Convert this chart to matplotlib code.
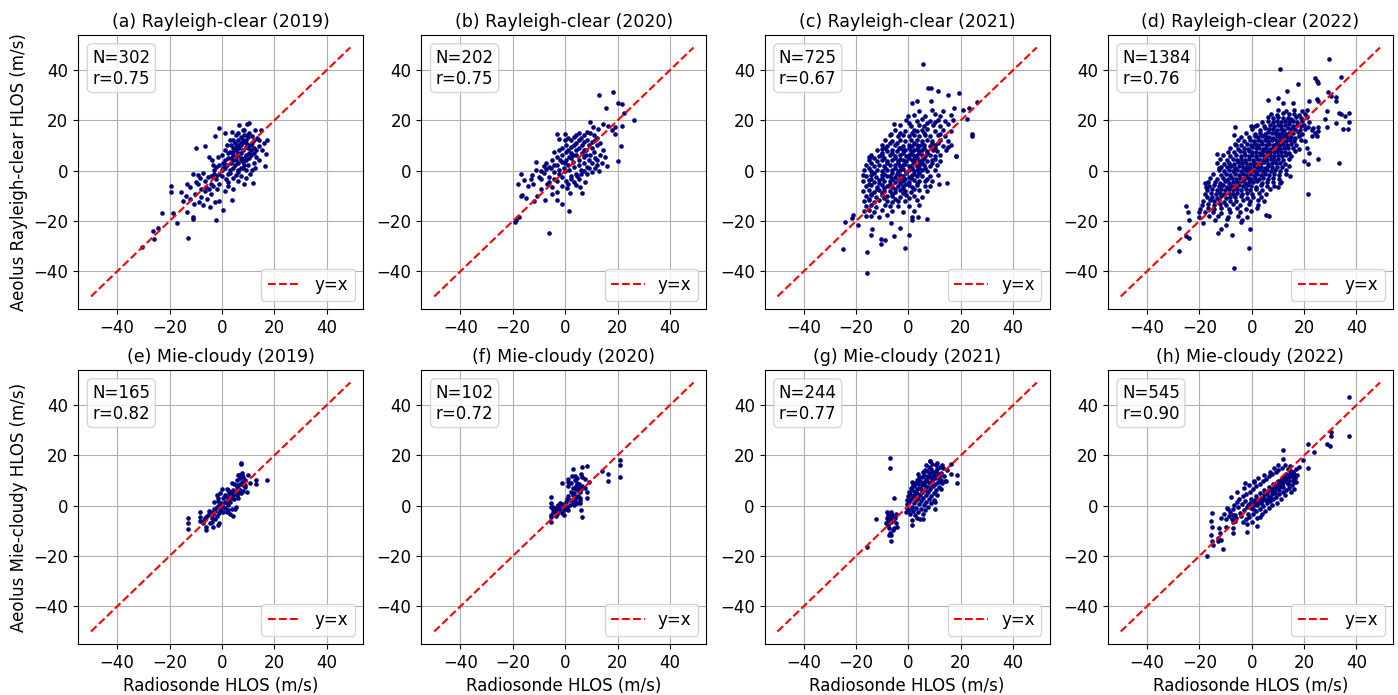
import matplotlib
matplotlib.use("Agg")
import matplotlib.pyplot as plt

# Aeolus vs radiosonde HLOS (m/s), values as (radiosonde, aeolus)
rc2019 = [
    (-30.4, -30.4), (-25.9, -27.1), (-26.5, -24.0), (-24.4, -22.8), (-22.7, -16.8), (-18.6, -16.8), (-17.0, -20.8),
    (-13.1, -26.7), (-13.5, -16.6), (-11.2, -18.2), (-11.0, -19.0), (-7.1, -13.6), (-4.6, -14.6), (-2.4, -19.7),
    (0.3, -15.5), (-1.0, -12.2), (3.7, -11.6), (-19.5, -5.9), (-19.5, -8.3), (-15.7, -8.6), (-13.5, -5.3),
    (-12.2, -6.3), (-14.8, -12.1), (-13.6, -10.2), (-12.1, -11.4), (-10.8, -13.2), (-10.2, -9.1), (-8.9, -12.3),
    (-7.8, -10.4), (-6.6, -8.2), (-5.7, -11.3), (-4.1, -9.4), (-2.8, -12.6), (-1.9, -7.3), (1.2, -8.1), (2.3, -6.2),
    (4.4, -7.3), (6.1, -4.2), (8.3, -5.1), (10.7, -1.4), (12.0, -4.7), (12.6, 1.0), (16.5, 2.0), (16.8, 6.8),
    (17.1, 12.4), (14.8, 16.3), (13.2, 8.1), (14.1, 10.0), (11.6, 14.0), (12.6, 16.0), (8.5, 16.0), (9.7, 18.7),
    (10.5, 18.9), (6.6, 18.3), (4.0, 15.4), (1.3, 15.0), (-1.0, 17.0), (-2.6, 13.7), (-6.5, 10.0), (-10.0, 9.0),
    (-5.0, 5.5), (-3.6, 4.2), (-1.4, 5.3), (-9.0, -1.7), (-8.4, -3.0), (-10.0, -4.3), (-11.2, -1.2), (-7.1, -0.8),
    (-6.3, -4.1), (-5.2, -2.3), (-4.3, -5.1), (-3.1, -1.2), (-2.2, -3.4), (-1.1, -5.2), (0.2, -2.1), (1.4, -3.3),
    (2.2, -4.4), (3.1, -0.8), (4.2, -2.9), (5.3, -1.8), (6.2, -0.7), (7.4, -2.2), (8.1, 0.9), (9.2, -2.8),
    (10.1, 2.3), (11.3, 0.4), (12.2, 3.1), (0.1, 0.3), (1.2, 1.1), (2.1, 2.4), (3.3, 3.1), (4.1, 4.2), (5.2, 5.3),
    (6.1, 6.4), (7.3, 7.1), (8.2, 8.3), (9.1, 9.4), (10.3, 10.2), (2.2, 5.1), (3.1, 7.3), (4.3, 9.1), (5.1, 11.2),
    (6.2, 12.1), (7.1, 13.3), (8.3, 14.2), (5.3, 8.1), (6.4, 9.2), (7.2, 10.4), (8.1, 11.3), (9.3, 12.2),
    (10.1, 13.4), (3.2, 0.2), (4.3, 1.1), (5.1, 2.3), (6.3, 3.2), (7.1, 4.1), (8.4, 5.2), (9.2, 6.3), (10.4, 7.1),
    (11.1, 8.2), (12.3, 9.1), (1.1, 4.2), (2.3, 7.1), (3.4, 10.2), (4.2, 12.3), (5.4, 14.1), (6.3, 15.2),
    (7.9, 16.3), (9.4, 14.3), (10.2, 15.1), (11.3, 11.2), (12.1, 12.4), (13.3, 13.1), (14.2, 12.2), (0.3, 3.2),
    (-1.2, 2.1), (-2.1, 1.3), (-3.3, 2.2), (-1.1, -1.2), (0.2, 6.3), (1.3, 8.1), (2.1, 10.3), (3.2, 12.1),
    (4.3, 6.1), (5.2, 4.3), (6.1, 7.2), (7.3, 5.1), (8.2, 3.3), (9.1, 4.2), (10.3, 5.1), (11.2, 6.3), (12.4, 7.2),
    (13.2, 5.3), (14.1, 4.2), (15.3, 8.1), (16.1, 11.2), (6.2, 0.3), (7.1, 1.2), (8.3, 2.1), (9.2, 0.2),
    (3.3, 5.2), (4.1, 7.3), (5.3, 9.4), (6.1, 10.3), (7.3, 11.2), (8.2, 12.4), (9.3, 11.1), (10.1, 9.2),
    (11.2, 10.3), (2.2, -1.3), (1.1, 2.2), (0.3, 1.1), (-2.1, -2.2), (-3.2, 0.3), (-4.3, -2.1), (-6.2, -6.3),
    (-8.1, -7.2), (-9.2, -5.1), (-5.1, -7.2), (-3.3, -6.1),
]

rc2020 = [
    (12.9, 30.3), (18.1, 31.2), (15.6, 25.0), (20.2, 27.0), (21.6, 26.6), (22.4, 22.9), (26.3, 20.3), (9.4, 19.3),
    (10.5, 17.4), (12.6, 16.7), (14.5, 18.7), (16.5, 17.6), (17.7, 16.0), (19.0, 17.4), (21.8, 17.6), (19.0, 14.5),
    (21.2, 9.7), (20.0, 3.9), (16.0, 1.8), (0.0, 14.7), (-3.3, 14.7), (-2.3, 12.5), (-11.2, 3.4), (-8.2, 1.8),
    (-12.6, -1.8), (-16.8, -1.4), (-17.9, -5.4), (-15.7, -3.7), (-12.2, -5.3), (-17.0, -10.0), (-16.6, -9.6),
    (-15.0, -10.7), (-12.0, -12.2), (-10.6, -10.0), (-7.8, -11.6), (-3.3, -11.6), (-1.1, -13.3), (1.5, -16.2),
    (0.8, -7.0), (2.0, -9.0), (6.3, -9.0), (5.6, -6.3), (7.5, -4.3), (4.0, -5.7), (-19.3, -20.5), (-18.6, -19.5),
    (-17.6, -18.4), (-6.3, -24.7), (-8.0, -1.0), (-7.2, 0.5), (-6.1, -2.3), (-5.3, 1.2), (-4.2, -0.4), (-3.1, 2.1),
    (-2.3, 0.3), (-1.2, 3.4), (-0.3, 1.2), (0.4, 4.1), (1.2, 2.3), (2.3, 5.2), (3.1, 3.4), (4.2, 6.3), (5.1, 4.2),
    (6.3, 7.1), (7.2, 5.3), (8.1, 8.4), (9.3, 6.2), (10.2, 9.1), (11.1, 7.3), (12.3, 10.2), (-6.2, -4.3),
    (-4.1, -3.2), (-2.2, -1.4), (0.1, -0.3), (1.3, 0.4), (2.1, -2.1), (3.4, 1.3), (4.3, -1.2), (5.2, 2.1),
    (6.1, 0.4), (7.3, 3.2), (8.4, 1.3), (9.2, 4.3), (10.3, 3.1), (11.2, 5.2), (12.1, 4.1), (13.3, 6.3), (-5.1, 4.2),
    (-3.2, 5.3), (-1.3, 6.1), (0.2, 7.3), (1.1, 8.2), (2.4, 9.3), (3.2, 10.4), (4.1, 11.2), (5.3, 12.3),
    (6.2, 13.1), (7.1, 11.4), (8.3, 12.2), (9.1, 10.3), (10.4, 11.3), (11.2, 12.4), (-1.2, 9.1), (0.3, 10.2),
    (2.2, 12.1), (3.3, 13.4), (4.2, 8.3), (5.1, 9.2), (6.3, 10.1), (7.2, 8.4), (8.1, 6.3), (3.1, 6.4), (2.2, 7.1),
    (1.3, 5.3), (-0.2, 3.2), (-2.1, 4.1), (-4.3, 2.3), (-6.1, 1.4), (-7.2, 3.1), (-9.2, -0.3), (-10.1, -2.4),
    (-11.3, 0.2), (-9.1, -3.3), (-7.1, -5.2), (-5.2, -6.4), (-3.1, -4.1), (-1.2, -2.3), (0.2, -4.2), (1.1, -5.3),
    (2.3, -3.4), (3.2, -4.3), (4.4, -2.2), (5.3, -3.1), (6.2, -1.3), (7.1, -0.2), (8.3, -1.2), (9.2, 1.1),
    (10.1, -0.4), (11.3, 1.2), (12.2, 2.3), (13.1, -0.3), (14.2, 3.2), (15.1, 5.3), (14.3, 8.2), (13.2, 11.1),
    (12.3, 13.2), (11.1, 14.3), (9.3, 15.1), (8.2, 15.3), (7.1, 14.2), (5.2, 15.1), (4.3, 14.1), (-4.2, 7.3),
    (-2.3, 8.1), (0.1, 12.2), (1.2, 13.1), (-1.3, -6.2), (-3.2, -8.3), (-5.1, -9.1), (-9.3, -7.2), (-13.1, -3.2),
    (-14.2, -6.1),
]

rc2021 = [
    (5.6, 42.4), (7.6, 32.8), (8.5, 32.8), (11.4, 31.8), (15.2, 30.3), (19.3, 30.9), (3.1, 27.9), (8.8, 27.9),
    (1.2, 26.8), (17.5, 25.0), (21.0, 24.3), (23.3, 25.0), (26.1, 27.5), (22.5, 20.4), (24.3, 14.7), (24.3, 14.0),
    (18.2, 5.8), (14.6, -5.0), (11.8, -5.4), (7.2, -19.2), (3.7, -18.2), (1.2, -19.5), (0.1, -25.4), (-1.4, -30.7),
    (-3.1, -22.8), (-5.5, -26.0), (-6.5, -20.8), (-8.8, -27.6), (-10.4, -27.0), (-10.6, -29.0), (-14.2, -25.7),
    (-13.8, -23.2), (-15.7, -32.2), (-15.7, -40.5), (-25.1, -31.0), (-24.2, -20.5), (-21.3, -17.5), (-21.5, -18.8),
    (-19.3, -21.7), (-17.4, -1.7), (-15.2, 5.3), (-14.6, 5.3), (-10.2, 8.6), (-10.0, 6.2), (-6.8, 14.7),
    (-5.5, 18.7), (-3.6, 9.2), (0.0, 21.7), (15.0, 9.5), (18.0, 6.0),
    (4.2, 23.8), (9.1, 24.3), (13.2, 23.6), (2.1, 22.2), (6.3, 21.8), (10.2, 22.4), (12.1, 21.6), (16.2, 22.1),
    (-1.1, 20.3), (3.2, 19.8), (5.1, 20.4), (8.3, 19.7), (11.2, 20.2), (14.1, 19.6), (17.2, 20.1), (-3.2, 18.1),
    (1.1, 17.8), (4.2, 18.3), (6.1, 17.7), (9.3, 18.2), (12.1, 17.9), (15.2, 18.4), (-5.1, 16.2), (-1.2, 15.8),
    (2.1, 16.3), (3.3, 15.7), (5.2, 16.1), (7.1, 16.4), (10.2, 15.9), (13.1, 16.2), (16.1, 15.8), (-7.2, 14.1),
    (-4.1, 13.8), (-2.2, 14.3), (0.1, 13.7), (2.2, 14.2), (4.1, 13.9), (6.2, 14.4), (8.1, 13.8), (11.2, 14.1),
    (14.1, 13.7), (-9.1, 12.2), (-6.2, 11.8), (-3.1, 12.3), (-1.2, 11.7), (1.1, 12.1), (3.2, 12.4), (5.1, 11.9),
    (7.2, 12.2), (9.1, 11.8), (12.2, 12.3), (15.1, 11.9), (-10.2, 10.1), (-8.1, 9.8), (-5.2, 10.3), (-2.1, 9.7),
    (0.2, 10.2), (1.3, 9.9), (3.1, 10.4), (4.2, 9.8), (6.1, 10.1), (8.2, 9.7), (10.1, 10.3), (13.1, 9.9),
    (16.2, 10.2), (-12.1, 8.2), (-8.2, 7.8), (-6.1, 8.3), (-4.2, 7.7), (-2.1, 8.1), (-1.2, 8.4), (1.1, 7.9),
    (2.2, 8.2), (4.1, 7.8), (5.2, 8.3), (7.1, 7.7), (9.2, 8.1), (11.1, 7.9), (14.2, 8.2), (-14.1, 6.1),
    (-11.2, 5.8), (-7.1, 6.3), (-5.2, 5.7), (-3.1, 6.2), (-1.1, 5.9), (0.2, 6.4), (2.1, 5.8), (3.2, 6.1), (5.1, 6.3),
    (6.2, 5.7), (8.1, 6.2), (10.2, 5.9), (12.1, 6.1), (-15.2, 4.1), (-12.1, 3.8), (-10.2, 4.3), (-8.1, 3.7),
    (-6.2, 4.2), (-4.1, 3.9), (-2.2, 4.4), (-1.1, 3.8), (1.2, 4.1), (2.1, 4.3), (4.2, 3.7), (5.1, 4.2), (7.2, 3.9),
    (9.1, 4.1), (12.2, 3.8), (-16.1, 2.2), (-13.2, 1.8), (-11.1, 2.3), (-9.2, 1.7), (-7.1, 2.1), (-5.2, 2.4),
    (-3.1, 1.9), (-2.2, 2.2), (0.1, 1.8), (1.2, 2.3), (3.1, 1.7), (4.2, 2.1), (6.1, 2.4), (8.2, 1.8), (11.1, 2.2),
    (-17.1, 0.1), (-14.2, -0.2), (-12.1, 0.3), (-10.2, -0.3), (-8.1, 0.2), (-6.2, 0.4), (-4.1, -0.1), (-3.2, 0.2),
    (-1.1, -0.4), (0.2, 0.3), (2.1, -0.2), (3.2, 0.1), (5.1, 0.4), (7.2, -0.3), (10.1, 0.2), (-16.2, -2.1),
    (-14.1, -1.8), (-12.2, -2.3), (-10.1, -1.7), (-8.2, -2.2), (-7.1, -1.9), (-5.2, -2.4), (-3.1, -1.8),
    (-2.2, -2.1), (0.1, -2.3), (1.2, -1.7), (3.1, -2.2), (5.2, -1.9), (8.1, -2.1), (11.2, -1.8), (-17.2, -4.1),
    (-15.1, -3.8), (-13.2, -4.3), (-11.1, -3.7), (-9.2, -4.2), (-7.1, -3.9), (-5.2, -4.4), (-4.1, -3.8),
    (-2.2, -4.1), (0.1, -4.3), (2.2, -3.7), (4.1, -4.2), (6.2, -3.9), (9.1, -4.1), (-16.1, -6.2), (-14.2, -5.8),
    (-12.1, -6.3), (-10.2, -5.7), (-8.1, -6.1), (-6.2, -6.4), (-4.1, -5.9), (-2.2, -6.2), (0.1, -5.8), (1.2, -6.3),
    (3.1, -5.7), (6.2, -6.1), (8.1, -5.9), (-17.2, -8.1), (-15.1, -7.8), (-13.2, -8.3), (-11.1, -7.7), (-9.2, -8.2),
    (-7.1, -7.9), (-5.2, -8.4), (-3.1, -7.8), (-1.2, -8.1), (1.1, -8.3), (4.2, -7.7), (7.1, -8.2), (-16.2, -10.1),
    (-14.1, -9.8), (-12.2, -10.3), (-10.1, -9.7), (-8.2, -10.2), (-6.1, -9.9), (-3.2, -10.4), (-1.1, -9.8),
    (2.1, -10.1), (5.2, -10.3), (-17.1, -12.2), (-15.2, -11.8), (-13.1, -12.3), (-11.2, -11.7), (-8.1, -12.1),
    (-6.2, -12.4), (-4.1, -11.9), (-1.2, -12.2), (3.1, -11.8), (-16.2, -14.1), (-14.1, -13.8), (-12.2, -14.3),
    (-9.1, -13.7), (-7.2, -14.2), (-4.1, -13.9), (0.2, -14.1), (4.1, -13.8), (-17.1, -16.2), (-15.2, -15.8),
    (-13.1, -16.3), (-10.2, -15.7), (-6.1, -16.1), (-2.2, -16.4), (2.1, -15.9), (-16.2, -18.1), (-14.1, -17.8),
    (-11.2, -18.3), (-8.1, -17.7), (1.2, -18.2),
    (0.2, 19.1), (7.1, 18.9), (10.2, 19.2), (-3.1, 15.1), (1.2, 14.9), (6.1, 15.2), (12.2, 14.8), (-7.1, 11.1),
    (-4.2, 10.9), (2.1, 11.2), (5.2, 10.8), (9.1, 11.1), (11.2, 10.9), (-9.1, 9.1), (-3.2, 8.9), (0.1, 9.2),
    (3.2, 8.8), (6.1, 9.1), (10.2, 8.9), (-10.1, 7.1), (-6.2, 6.9), (-2.1, 7.2), (1.2, 6.8), (4.1, 7.1), (7.2, 6.9),
    (-13.1, 5.1), (-9.2, 4.9), (-5.1, 5.2), (-3.2, 4.8), (0.1, 5.1), (3.2, 4.9), (6.1, 5.2), (10.2, 4.8),
    (-14.1, 3.1), (-8.2, 2.9), (-4.1, 3.2), (-1.2, 2.8), (2.1, 3.1), (5.2, 2.9), (9.1, 3.2), (-15.2, 1.1),
    (-9.1, 0.9), (-5.2, 1.2), (-2.1, 0.8), (1.2, 1.1), (4.1, 0.9), (6.2, 1.2), (-13.1, -0.9), (-9.2, -1.1),
    (-6.1, -0.8), (-4.2, -1.2), (-1.1, -0.9), (2.2, -1.1), (4.1, -0.8), (-14.2, -3.1), (-10.1, -2.9), (-6.2, -3.2),
    (-3.1, -2.8), (-1.2, -3.1), (1.1, -2.9), (7.2, -3.2), (-15.1, -5.1), (-11.2, -4.9), (-7.1, -5.2), (-3.2, -4.8),
    (-1.1, -5.1), (3.2, -4.9), (-12.1, -7.1), (-9.2, -6.9), (-5.1, -7.2), (-2.2, -6.8), (2.1, -7.1), (-14.1, -9.1),
    (-10.2, -8.9), (-6.1, -9.2), (-2.2, -8.8), (-15.1, -11.1), (-9.2, -10.9), (-5.1, -11.2), (0.2, -10.8),
]

rc2022 = [
    (29.6, 44.6), (10.8, 40.4), (34.2, 37.4), (24.2, 36.8), (24.8, 35.8), (25.2, 34.7), (17.5, 34.5), (13.3, 31.6),
    (29.3, 31.4), (30.3, 29.9), (32.3, 29.2), (32.3, 27.9), (22.0, 27.9), (25.5, 27.9), (24.9, 28.5), (6.4, 28.3),
    (9.9, 28.9), (12.0, 27.0), (15.9, 27.0), (28.6, 23.9), (33.2, 22.9), (34.2, 22.4), (35.5, 21.6), (37.0, 23.0),
    (37.0, 19.3), (36.7, 16.7), (35.0, 16.7), (32.1, 18.9), (28.7, 17.4), (28.0, 20.7), (33.2, 3.2), (21.4, -9.3),
    (25.2, 4.6), (-27.8, -22.8), (-27.8, -32.0), (-25.1, -14.2), (-24.2, -16.6), (-23.8, -19.5), (-25.1, -26.0),
    (-23.8, -26.7), (-20.0, -16.4), (-20.0, -18.2), (-18.7, -20.6), (-17.8, -5.0), (-17.4, -6.3), (-13.2, 6.6),
    (-12.3, 0.9), (-6.9, -38.6), (-1.2, -30.9), (-0.5, -23.0), (-6.5, 17.4), (-6.8, 14.1), (-0.4, 17.6),
    (1.2, 17.6), (-5.9, 10.4), (-12.9, -24.7), (-11.7, -23.2), (-7.4, -25.4), (-9.9, -21.6), (-4.0, -20.5),
    (5.6, -17.5), (6.5, -17.9), (4.6, -12.2), (10.1, -6.3), (11.0, -5.0), (14.6, -2.1), (21.6, 17.4), (22.9, 16.3),
    (24.2, 15.0), (25.5, 15.6), (24.8, 13.8), (22.9, 14.0), (23.5, 17.0), (25.5, 17.5), (20.5, 12.0), (21.0, 9.0),
    (22.0, 7.0), (20.0, 4.0), (21.5, 2.5),
    (10.1, 24.2), (13.2, 23.8), (16.1, 24.3), (19.2, 23.9), (21.0, 24.1), (7.2, 22.6), (9.8, 22.3), (12.1, 22.8),
    (14.3, 22.4), (16.2, 22.7), (18.1, 22.2), (20.3, 22.6), (6.1, 21.2), (8.2, 20.8), (10.1, 21.3), (11.9, 20.9),
    (13.8, 21.1), (15.2, 20.7), (17.1, 21.2), (19.0, 20.9), (21.2, 21.3), (4.1, 19.4), (6.3, 19.7), (8.1, 19.3),
    (9.6, 19.8), (11.2, 19.4), (12.8, 19.6), (14.1, 19.2), (15.9, 19.7), (17.4, 19.3), (19.1, 19.8), (22.0, 19.4),
    (2.2, 18.1), (4.8, 17.8), (6.9, 18.3), (8.4, 17.9), (9.9, 18.2), (11.3, 17.7), (12.7, 18.1), (14.2, 18.4),
    (15.8, 17.8), (17.3, 18.2), (18.8, 17.9), (20.1, 18.3), (0.1, 16.6), (3.1, 16.3), (5.2, 16.8), (6.8, 16.4),
    (8.3, 16.7), (9.7, 16.2), (11.1, 16.6), (12.4, 16.3), (13.9, 16.8), (15.2, 16.4), (16.7, 16.6), (18.3, 16.2),
    (20.2, 16.7), (-2.3, 15.1), (1.2, 14.8), (3.3, 15.2), (4.9, 14.7), (6.2, 15.3), (7.6, 14.9), (8.9, 15.2),
    (10.3, 14.8), (11.7, 15.1), (13.1, 14.7), (14.4, 15.2), (15.9, 14.9), (17.5, 15.3), (19.1, 14.8), (-4.1, 13.6),
    (-1.2, 13.3), (1.1, 13.7), (2.6, 13.4), (4.1, 13.8), (5.4, 13.3), (6.8, 13.6), (8.1, 13.2), (9.5, 13.7),
    (10.9, 13.4), (12.2, 13.8), (13.6, 13.3), (15.1, 13.6), (16.6, 13.2), (18.2, 13.7), (-5.1, 12.1), (-2.8, 11.8),
    (-0.6, 12.2), (1.0, 11.7), (2.4, 12.3), (3.7, 11.9), (5.1, 12.2), (6.4, 11.8), (7.8, 12.1), (9.1, 12.4),
    (10.5, 11.9), (11.8, 12.2), (13.2, 11.7), (14.7, 12.1), (16.3, 11.8), (18.9, 12.2), (-6.2, 10.6), (-3.9, 10.3),
    (-1.8, 10.8), (-0.2, 10.4), (1.3, 10.7), (2.6, 10.2), (4.0, 10.6), (5.3, 10.3), (6.7, 10.8), (8.0, 10.4),
    (9.4, 10.6), (10.7, 10.2), (12.1, 10.7), (13.5, 10.3), (15.0, 10.6), (16.8, 10.2), (-8.1, 9.1), (-5.2, 8.8),
    (-3.1, 9.2), (-1.4, 8.7), (0.1, 9.3), (1.5, 8.9), (2.8, 9.1), (4.2, 8.8), (5.5, 9.2), (6.9, 8.7), (8.2, 9.1),
    (9.6, 9.3), (10.9, 8.8), (12.3, 9.2), (13.8, 8.9), (15.6, 9.1), (18.0, 8.8), (-9.2, 7.6), (-6.8, 7.3),
    (-4.6, 7.7), (-2.8, 7.4), (-1.2, 7.8), (0.2, 7.3), (1.6, 7.6), (3.0, 7.2), (4.3, 7.7), (5.7, 7.4), (7.0, 7.6),
    (8.4, 7.3), (9.7, 7.8), (11.1, 7.4), (12.6, 7.6), (14.3, 7.2), (16.4, 7.7), (-11.1, 6.1), (-8.2, 5.8),
    (-6.1, 6.2), (-4.2, 5.7), (-2.6, 6.3), (-1.1, 5.9), (0.3, 6.2), (1.7, 5.8), (3.1, 6.1), (4.4, 6.3), (5.8, 5.7),
    (7.1, 6.2), (8.5, 5.8), (9.9, 6.1), (11.4, 5.9), (13.1, 6.3), (15.2, 5.8), (-12.0, 4.6), (-9.4, 4.3),
    (-7.3, 4.7), (-5.5, 4.2), (-3.9, 4.8), (-2.4, 4.4), (-0.9, 4.6), (0.5, 4.2), (1.9, 4.7), (3.2, 4.3), (4.6, 4.6),
    (5.9, 4.2), (7.3, 4.8), (8.7, 4.4), (10.2, 4.6), (11.9, 4.3), (14.1, 4.7), (-13.1, 3.1), (-10.6, 2.8),
    (-8.5, 3.2), (-6.7, 2.7), (-5.1, 3.3), (-3.6, 2.9), (-2.1, 3.1), (-0.7, 2.8), (0.7, 3.2), (2.0, 2.7), (3.4, 3.1),
    (4.8, 3.3), (6.1, 2.8), (7.6, 3.2), (9.1, 2.9), (10.8, 3.1), (12.9, 2.7), (-11.7, 1.6), (-9.6, 1.3),
    (-7.9, 1.7), (-6.3, 1.2), (-4.8, 1.8), (-3.3, 1.4), (-1.9, 1.6), (-0.5, 1.2), (0.9, 1.7), (2.2, 1.3), (3.6, 1.6),
    (5.0, 1.2), (6.4, 1.8), (7.9, 1.4), (9.6, 1.6), (11.7, 1.3), (14.2, 1.7), (-12.6, 0.1), (-10.4, -0.2),
    (-8.7, 0.3), (-7.1, -0.3), (-5.6, 0.2), (-4.1, -0.1), (-2.7, 0.3), (-1.3, -0.2), (0.1, 0.1), (1.4, -0.3),
    (2.8, 0.2), (4.2, -0.1), (5.7, 0.3), (7.2, -0.2), (8.9, 0.1), (10.9, -0.3), (13.2, 0.2), (-14.8, -1.4),
    (-11.9, -1.7), (-9.8, -1.3), (-8.1, -1.8), (-6.5, -1.4), (-5.0, -1.6), (-3.5, -1.2), (-2.1, -1.7), (-0.7, -1.3),
    (0.7, -1.6), (2.1, -1.2), (3.6, -1.8), (5.1, -1.4), (6.7, -1.6), (8.5, -1.3), (10.6, -1.7), (13.1, -1.4),
    (-15.9, -2.9), (-13.2, -3.2), (-11.0, -2.8), (-9.2, -3.3), (-7.6, -2.9), (-6.0, -3.1), (-4.5, -2.7),
    (-3.0, -3.2), (-1.5, -2.8), (-0.1, -3.3), (1.4, -2.9), (2.9, -3.1), (4.5, -2.7), (6.2, -3.2), (8.1, -2.8),
    (10.3, -3.1), (-16.7, -4.6), (-14.1, -4.3), (-12.0, -4.7), (-10.2, -4.2), (-8.6, -4.8), (-7.0, -4.4),
    (-5.5, -4.6), (-4.0, -4.2), (-2.5, -4.7), (-1.0, -4.3), (0.6, -4.6), (2.2, -4.2), (3.9, -4.8), (5.8, -4.4),
    (8.0, -4.6), (11.1, -4.3), (-16.2, -6.1), (-14.3, -5.8), (-12.6, -6.2), (-11.0, -5.7), (-9.5, -6.3),
    (-8.0, -5.9), (-6.5, -6.1), (-5.0, -5.8), (-3.5, -6.2), (-1.9, -5.7), (-0.2, -6.1), (1.6, -6.3), (3.5, -5.8),
    (5.7, -6.2), (8.4, -5.9), (-17.1, -7.6), (-15.0, -7.3), (-13.3, -7.7), (-11.7, -7.2), (-10.2, -7.8),
    (-8.7, -7.4), (-7.2, -7.6), (-5.6, -7.3), (-4.0, -7.7), (-2.3, -7.2), (-0.5, -7.6), (1.5, -7.4), (3.8, -7.7),
    (6.9, -7.3), (-18.0, -9.1), (-15.6, -8.8), (-13.7, -9.2), (-12.0, -8.7), (-10.4, -9.3), (-8.8, -8.9),
    (-7.2, -9.1), (-5.5, -8.8), (-3.7, -9.2), (-1.8, -8.7), (0.3, -9.1), (2.8, -8.9), (5.5, -9.2), (-17.2, -10.6),
    (-15.1, -10.3), (-13.3, -10.7), (-11.6, -10.2), (-9.9, -10.8), (-8.1, -10.4), (-6.2, -10.6), (-4.1, -10.2),
    (-1.9, -10.7), (0.6, -10.3), (3.4, -10.6), (-18.4, -12.1), (-16.1, -11.8), (-14.2, -12.2), (-12.3, -11.7),
    (-10.4, -12.3), (-8.3, -11.9), (-6.0, -12.1), (-3.4, -11.8), (-0.6, -12.2), (2.5, -11.7), (-19.1, -13.6),
    (-16.5, -13.3), (-14.3, -13.7), (-12.1, -13.2), (-9.8, -13.8), (-7.2, -13.4), (-4.3, -13.6), (-1.1, -13.2),
    (2.4, -13.7), (-19.6, -15.1), (-16.8, -14.8), (-14.2, -15.2), (-11.6, -14.7), (-8.8, -15.3), (-5.7, -14.9),
    (-2.1, -15.1), (1.9, -14.8), (-17.9, -16.6), (-14.8, -16.3), (-11.7, -16.8), (-8.3, -16.4), (-4.4, -16.6),
    (-0.2, -16.2), (-16.3, -18.1), (-12.9, -17.8), (-9.1, -18.3), (-5.2, -17.9), (-1.6, -18.2), (-14.1, -19.6),
    (-9.6, -19.3), (-3.7, -19.7),
]

mc2019 = [
    (7.3, 17.1), (7.3, 16.6), (6.6, 12.4), (7.5, 12.4), (10.0, 12.1), (12.9, 10.1), (12.9, 8.8), (17.1, 10.4),
    (9.4, 5.5), (-12.8, -5.0), (-12.8, -7.0), (-12.8, -9.3), (-8.2, -2.4), (-8.2, -4.6), (-8.2, -5.9), (-6.5, -5.0),
    (-6.1, -8.3), (-6.1, -9.6), (-3.3, -8.3), (-1.4, -7.6), (-1.0, -7.0), (-4.0, -2.4), (-3.6, -5.0), (-3.1, -1.1),
    (-2.9, 1.3), (-2.0, 4.2), (-0.8, 4.9), (-1.4, 2.9), (0.0, 6.8), (1.8, 6.8), (2.4, 6.2), (0.5, -2.4), (1.8, -2.4),
    (4.3, -4.1), (3.1, -3.4), (5.0, -1.4), (5.4, -0.4), (5.6, 8.2), (6.3, 7.0), (8.2, 8.2), (8.8, 7.6), (10.7, 9.0),
    (8.2, 11.4), (8.8, 10.1), (6.9, 8.8), (5.6, 7.6), (5.0, 5.5), (4.3, 4.2), (3.7, 2.9), (3.1, 1.6), (1.8, 0.9),
    (0.6, -0.3), (0.6, 2.9), (1.8, 3.6), (3.1, 4.9), (4.3, 6.2), (5.6, 4.3), (6.3, 2.9), (3.7, -1.1), (2.4, -1.6),
    (-0.6, -1.8), (-1.2, -3.0), (-1.8, -4.1), (-2.5, -5.4), (-3.7, -6.3), (-4.6, -6.8), (-5.3, -3.7), (-4.9, -2.0),
    (-5.9, -4.5), (-7.0, -5.6), (-7.4, -7.0), (-2.0, -0.6), (-0.4, 1.0), (1.0, 1.6), (2.2, 2.2), (2.8, 3.0),
    (3.4, 5.6), (4.8, 8.8), (5.8, 10.3), (7.0, 11.1), (7.6, 9.5), (6.8, 6.1), (7.3, 4.9), (4.6, 2.5), (2.4, 0.3),
    (1.2, -1.0), (0.2, 0.6), (-1.0, 0.4), (-1.6, 1.8), (-2.6, -2.2), (-3.4, -3.2), (4.0, 9.0), (2.6, 5.0),
    (1.2, 4.4), (8.0, 6.0), (9.0, 8.4), (6.0, 12.3), (7.6, 13.0), (6.0, 5.0),
]

mc2020 = [
    (3.1, 14.7), (6.3, 15.4), (8.2, 15.8), (13.9, 13.7), (16.2, 12.5), (16.2, 9.9), (20.9, 18.0), (20.9, 16.3),
    (20.9, 11.4), (-1.1, 9.2), (1.1, 10.8), (1.1, 9.5), (1.1, 7.9), (3.9, 11.8), (3.9, 10.1), (6.0, 12.8),
    (6.3, 11.4), (7.5, 10.8), (9.2, 9.5), (8.2, 5.5), (8.4, 2.9), (5.3, 8.6), (5.3, 7.2), (4.3, 6.6), (5.6, 5.3),
    (5.0, 4.0), (4.0, 3.5), (3.7, 2.2), (2.9, 1.6), (3.3, 0.3), (4.6, 0.9), (5.6, 1.0), (6.0, -1.7), (6.3, -4.3),
    (5.6, 3.2), (2.9, 4.1), (1.8, 2.3), (1.8, 0.3), (0.6, -0.3), (0.6, 2.6), (0.0, -1.0), (-0.6, -1.7),
    (-1.2, -2.9), (-0.6, -3.6), (-1.8, -0.9), (-2.4, -1.5), (-3.0, -0.3), (-2.7, -2.2), (-3.3, -3.2), (-4.1, -2.2),
    (-4.7, -1.1), (-5.5, -3.5), (-5.5, -4.4), (-5.5, -6.3), (-5.5, 3.4), (-5.5, 1.1), (-5.5, -0.3), (-4.5, -2.4),
    (-3.9, -1.8), (-2.0, 1.0), (-1.2, 0.6), (0.2, 1.4), (1.2, 3.8), (2.2, 5.6), (3.0, 7.2), (4.0, 8.0), (4.6, 9.0),
    (5.0, 6.2), (6.2, 6.8), (6.6, 8.0), (7.4, 7.2), (4.6, 11.0), (2.6, 12.0), (2.2, 9.0), (3.4, 5.2), (5.8, 2.2),
    (1.0, -1.6), (-3.6, -4.2), (-4.6, -0.6), (-2.8, 0.4),
]

mc2021 = [
    (-6.9, 18.9), (-6.9, 15.0), (-12.5, -5.3), (-15.7, -16.4), (-6.5, -14.2), (14.2, 9.7), (16.1, 12.5),
    (16.1, 16.7), (18.7, 12.1), (18.7, 9.1), (8.2, 17.6), (11.0, 17.0), (12.9, 16.3), (10.1, 1.6), (10.1, -1.1),
    (1.2, -7.6), (5.6, -5.3), (-5.5, 3.2), (-8.2, -2.4), (-7.9, -3.7), (-8.2, -5.0), (-8.2, -6.3), (-7.9, -7.6),
    (-7.4, -8.9), (-7.2, -10.9), (-6.5, -11.6), (-7.6, -11.6), (-6.5, -6.3), (-5.9, -5.7), (-5.2, -5.0),
    (-4.9, -7.0), (-4.5, -8.3), (-5.5, -8.9), (-6.5, -2.6), (-6.1, -3.7), (-7.0, -5.7), (-8.4, -7.0), (-6.8, -4.4),
    (-5.8, -9.6), (-4.8, -3.2),
    (0.4, 1.3), (1.1, 2.8), (0.7, 4.6), (1.9, 3.9), (2.6, 5.3), (1.4, 6.1), (3.3, 6.7), (2.2, 7.9), (4.1, 7.2),
    (3.7, 8.8), (5.2, 8.1), (4.6, 9.7), (5.9, 9.4), (6.7, 10.6), (5.3, 11.3), (6.1, 12.2), (7.4, 11.7), (8.1, 12.9),
    (7.2, 13.8), (8.6, 14.6), (9.3, 13.4), (7.8, 15.3), (6.4, 14.2), (9.9, 12.1), (10.6, 13.7), (11.3, 12.6),
    (10.2, 10.9), (9.1, 10.2), (8.4, 9.1), (7.7, 8.2), (6.8, 7.4), (6.2, 6.1), (5.1, 5.6), (4.4, 4.3), (3.6, 3.1),
    (2.9, 2.2), (2.1, 0.9), (1.3, -0.4), (0.2, -1.7), (-0.4, 0.6), (-0.9, -2.6), (0.6, -3.4), (1.7, -2.1),
    (2.8, -0.8), (3.9, 0.7), (4.8, 1.9), (5.7, 3.2), (6.6, 4.4), (7.5, 5.6), (8.3, 6.8), (9.2, 7.9), (10.1, 8.7),
    (11.2, 9.6), (12.3, 10.4), (12.9, 8.9), (11.8, 7.3), (10.7, 6.2), (9.6, 5.1), (8.8, 3.9), (7.9, 2.6), (6.9, 1.4),
    (5.8, 0.2), (4.7, -1.1), (3.5, -2.4), (2.4, -3.6), (3.1, -4.9), (1.5, -5.8), (4.3, -5.2), (5.4, -3.3),
    (6.3, -1.7), (7.4, -0.4), (8.7, 1.1), (9.8, 2.4), (11.1, 4.3), (12.4, 6.7), (13.4, 11.8), (14.6, 14.1),
    (13.1, 14.9), (11.9, 15.6), (10.4, 16.1), (9.1, 16.8), (8.2, 17.6), (5.7, 13.4), (4.2, 11.6), (3.1, 10.3),
    (2.4, 9.1), (1.6, 8.3), (0.9, 7.1), (0.3, 5.4), (-0.3, 3.7), (-0.7, 2.1), (-0.5, -0.9), (1.2, 9.6), (3.8, 12.7),
    (6.9, 16.2), (12.6, 13.2), (13.8, 9.8), (2.2, 4.1), (3.4, 5.2), (4.9, 6.6), (6.1, 8.7), (7.1, 9.9), (8.3, 11.3),
    (9.6, 11.8), (10.8, 14.8), (11.6, 11.1), (12.1, 12.2),
]

mc2022 = [
    (37.0, 43.4), (37.0, 27.9), (30.1, 29.5), (30.1, 27.9), (28.7, 24.6), (30.0, 23.9), (21.5, 24.6), (23.8, 21.3),
    (21.5, 15.0), (12.0, 22.0), (12.0, 18.7), (-17.0, -20.1), (-15.2, -3.0), (-15.5, -5.9), (-15.2, -8.6),
    (-15.5, -11.6), (-15.2, -14.2), (-14.9, -15.5), (-12.3, -8.9), (-12.0, -10.9), (-11.7, -13.6), (-11.0, -17.1),
    (-9.7, -8.6), (-9.4, -0.7), (-7.8, 3.6), (-5.5, 5.5), (-2.4, 9.2), (0.9, 9.7), (-7.3, -3.7), (-7.3, -6.3),
    (-7.3, -8.9), (-7.3, -10.9), (-1.7, -10.3), (1.9, -7.9), (3.1, -4.3), (-12.8, -14.2), (-13.0, -13.0),
    (18.0, 15.5), (19.5, 18.0),
    (-8.3, -2.4), (-7.1, -1.2), (-6.4, -3.6), (-5.2, -0.4), (-4.6, -2.9), (-3.8, 0.8), (-3.1, -1.7), (-2.5, 1.9),
    (-1.9, -0.6), (-1.3, -3.4), (-0.7, 0.9), (-0.2, 2.7), (0.4, -1.3), (0.9, 1.4), (1.5, 3.8), (2.1, 0.2),
    (2.6, 2.3), (3.2, 4.9), (3.7, 1.1), (4.3, 3.2), (4.8, 6.1), (5.4, 2.4), (5.9, 4.7), (6.5, 7.3), (7.1, 3.6),
    (7.6, 5.8), (8.2, 8.5), (8.8, 4.9), (9.3, 7.1), (9.9, 9.8), (10.4, 6.2), (11.0, 8.4), (11.6, 11.2), (12.1, 7.6),
    (12.7, 9.9), (13.2, 12.7), (13.8, 8.8), (14.4, 11.3), (15.0, 13.9), (15.6, 10.4), (16.2, 12.6), (16.9, 14.8),
    (-5.8, -4.7), (-4.1, -4.1), (-2.3, -5.2), (-0.9, -4.6), (0.6, -3.1), (1.8, -2.2), (3.1, -1.2), (4.5, 0.1),
    (5.7, 0.9), (6.9, 1.8), (8.1, 2.7), (9.4, 3.4), (10.6, 4.5), (11.8, 5.3), (13.1, 6.4), (14.3, 7.2), (15.4, 8.1),
    (-4.7, 2.6), (-3.4, 3.9), (-2.1, 4.8), (-0.8, 5.6), (0.5, 6.8), (1.7, 7.9), (3.0, 8.8), (4.2, 9.7), (5.3, 10.6),
    (6.6, 11.7), (7.9, 12.5), (9.1, 13.3), (10.2, 14.4), (11.5, 15.2), (12.8, 16.1), (-1.5, 0.3), (-0.4, -0.8),
    (0.7, 0.4), (1.2, 2.1), (2.4, 1.6), (3.5, 2.8), (4.1, 1.9), (4.6, 4.4), (5.2, 5.5), (6.1, 3.1), (6.3, 5.9),
    (7.3, 6.8), (7.8, 4.6), (8.4, 7.2), (9.0, 6.1), (9.6, 8.3), (10.3, 7.4), (10.8, 9.6), (11.3, 10.1), (11.9, 9.2),
    (12.4, 11.5), (13.0, 10.8), (13.6, 12.1), (14.1, 9.9), (14.7, 12.9), (15.3, 11.7), (15.9, 13.4), (16.5, 11.1),
    (-6.7, 0.2), (-5.5, 1.4), (-9.2, -1.1), (-10.4, -3.2), (-11.6, -4.9), (-9.9, -5.4), (-8.7, -4.1), (-7.6, -5.3),
    (-6.3, -6.1), (-3.3, -6.4), (-1.8, -7.2), (0.2, -6.6), (2.2, -4.7), (3.9, -3.1), (5.1, -2.1), (6.7, -0.8),
    (7.9, 0.3), (9.6, 1.2), (11.3, 2.6), (12.7, 4.1), (14.9, 5.4), (16.3, 6.8), (17.1, 9.3), (16.0, 9.6),
    (17.4, 12.2), (-2.8, 6.9), (-1.1, 8.2), (0.8, 9.3), (2.3, 10.9), (4.8, 12.4), (6.9, 13.6), (8.6, 15.1),
    (10.1, 16.4), (13.9, 14.6), (14.6, 15.9),
]

titles = ["(a) Rayleigh-clear (2019)", "(b) Rayleigh-clear (2020)", "(c) Rayleigh-clear (2021)",
          "(d) Rayleigh-clear (2022)", "(e) Mie-cloudy (2019)", "(f) Mie-cloudy (2020)",
          "(g) Mie-cloudy (2021)", "(h) Mie-cloudy (2022)"]
counts = [302, 202, 725, 1384, 165, 102, 244, 545]
corrs = [0.75, 0.75, 0.67, 0.76, 0.82, 0.72, 0.77, 0.90]
datasets = [rc2019, rc2020, rc2021, rc2022, mc2019, mc2020, mc2021, mc2022]
ylabels = ["Aeolus Rayleigh-clear HLOS (m/s)", "Aeolus Mie-cloudy HLOS (m/s)"]

fig, axes = plt.subplots(2, 4, figsize=(13.98, 6.95), dpi=100)
fig.subplots_adjust(left=0.0558, right=0.9964, top=0.9496, bottom=0.0734, wspace=0.2035, hspace=0.223)

for i, ax in enumerate(axes.flat):
    xs, ys = zip(*datasets[i])
    ax.scatter(xs, ys, s=11, color="navy", linewidths=0, zorder=3)
    ax.plot([-50, 49], [-50, 49], "r--", lw=1.5, label="y=x", zorder=4)
    ax.set_xlim(-54.95, 53.95)
    ax.set_ylim(-54.95, 53.95)
    ax.set_xticks([-40, -20, 0, 20, 40])
    ax.set_yticks([-40, -20, 0, 20, 40])
    ax.tick_params(labelsize=12)
    ax.grid(True)
    ax.set_title(titles[i], fontsize=12.5)
    ax.text(0.05, 0.95, f"N={counts[i]}\nr={corrs[i]:.2f}", transform=ax.transAxes,
            va="top", ha="left", fontsize=12,
            bbox=dict(boxstyle="round", facecolor="white", edgecolor="0.8", alpha=0.8), zorder=5)
    ax.legend(loc="lower right", fontsize=12)
    if i % 4 == 0:
        ax.set_ylabel(ylabels[i // 4], fontsize=12)
    if i >= 4:
        ax.set_xlabel("Radiosonde HLOS (m/s)", fontsize=12)

fig.savefig("out.png", dpi=100)
